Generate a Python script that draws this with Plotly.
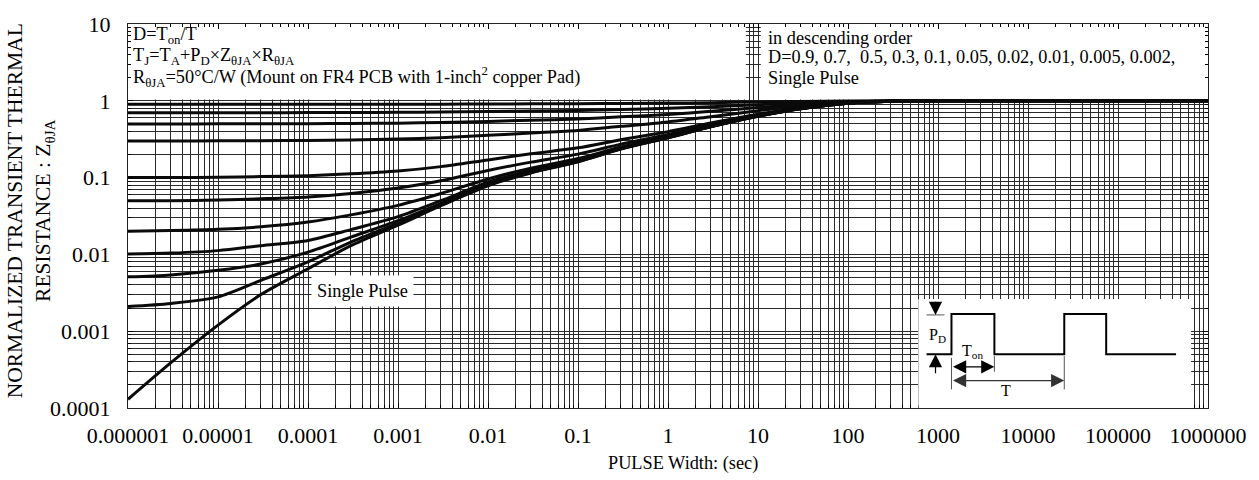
import plotly.graph_objects as go

# ---- data -----------------------------------------------------------------
pulse_width = [1e-6, 3e-6, 1e-5, 3e-5, 1e-4, 3e-4, 1e-3, 3e-3, 1e-2, 3e-2,
               0.1, 0.3, 1, 3, 10, 30, 100, 300, 1e3, 1e4, 1e5, 1e6]

z_d0_9 = [0.9, 0.9, 0.9, 0.9, 0.901, 0.901, 0.902, 0.904, 0.908, 0.912, 0.916,
          0.924, 0.933, 0.946, 0.963, 0.979, 0.993, 0.999, 1.0, 1.0, 1.0, 1.0]
z_d0_7 = [0.7, 0.7, 0.7, 0.701, 0.702, 0.704, 0.707, 0.713, 0.723, 0.735, 0.748,
          0.771, 0.799, 0.838, 0.889, 0.937, 0.979, 0.996, 1.0, 1.0, 1.0, 1.0]
z_d0_5 = [0.5, 0.5, 0.501, 0.502, 0.503, 0.507, 0.512, 0.522, 0.539, 0.558, 0.58,
          0.618, 0.665, 0.73, 0.815, 0.895, 0.965, 0.993, 1.0, 1.0, 1.0, 1.0]
z_d0_3 = [0.3, 0.3, 0.301, 0.302, 0.305, 0.309, 0.317, 0.33, 0.355, 0.381, 0.412,
          0.465, 0.531, 0.622, 0.741, 0.853, 0.951, 0.99, 1.0, 1.0, 1.0, 1.0]
z_d0_1 = [0.1, 0.1, 0.101, 0.103, 0.106, 0.112, 0.122, 0.139, 0.17, 0.204, 0.244,
          0.312, 0.397, 0.514, 0.667, 0.811, 0.937, 0.987, 1.0, 1.0, 1.0, 1.0]
z_d0_05 = [0.05, 0.05, 0.051, 0.053, 0.056, 0.062, 0.073, 0.091, 0.124, 0.159, 0.202,
           0.273, 0.364, 0.487, 0.649, 0.801, 0.934, 0.986, 1.0, 1.0, 1.0, 1.0]
z_d0_02 = [0.02, 0.0204, 0.0212, 0.0229, 0.0264, 0.0327, 0.0435, 0.062, 0.096, 0.133,
           0.177, 0.25, 0.343, 0.471, 0.637, 0.794, 0.931, 0.985, 1.0, 1.0, 1.0, 1.0]
z_d0_01 = [0.0101, 0.0104, 0.0112, 0.013, 0.0152, 0.021, 0.031, 0.05, 0.087, 0.124,
           0.168, 0.243, 0.337, 0.465, 0.634, 0.792, 0.93, 0.985, 1.0, 1.0, 1.0, 1.0]
z_d0_005 = [0.0051, 0.0054, 0.0062, 0.0075, 0.0107, 0.0168, 0.0275, 0.046, 0.083, 0.119,
            0.164, 0.239, 0.333, 0.463, 0.632, 0.791, 0.93, 0.985, 1.0, 1.0, 1.0, 1.0]
z_d0_002 = [0.0021, 0.0023, 0.0028, 0.0046, 0.008, 0.0145, 0.0255, 0.044, 0.08, 0.117,
            0.162, 0.237, 0.332, 0.461, 0.631, 0.79, 0.93, 0.985, 1.0, 1.0, 1.0, 1.0]
z_single = [1.3e-4, 3.9e-4, 1.2e-3, 3.0e-3, 6.5e-3, 0.013, 0.024, 0.043, 0.078, 0.115,
            0.16, 0.235, 0.33, 0.46, 0.63, 0.79, 0.93, 0.985, 1.0, 1.0, 1.0, 1.0]

series_names = ["D=0.9", "D=0.7", "D=0.5", "D=0.3", "D=0.1", "D=0.05", "D=0.02",
                "D=0.01", "D=0.005", "D=0.002", "Single Pulse"]
series_values = [z_d0_9, z_d0_7, z_d0_5, z_d0_3, z_d0_1, z_d0_05, z_d0_02,
                 z_d0_01, z_d0_005, z_d0_002, z_single]

x_tickvals = [1e-6, 1e-5, 1e-4, 1e-3, 1e-2, 1e-1, 1, 10, 100, 1e3, 1e4, 1e5, 1e6]
x_ticktext = ["0.000001", "0.00001", "0.0001", "0.001", "0.01", "0.1", "1", "10",
              "100", "1000", "10000", "100000", "1000000"]
y_tickvals = [1e-4, 1e-3, 1e-2, 1e-1, 1, 10]
y_ticktext = ["0.0001", "0.001", "0.01", "0.1", "1", "10"]

# ---- layout geometry (pixels of the 1259x480 canvas) -----------------------
W, H = 1259, 480
L, R, T, B = 128, 1210, 16, 408
FONT = "Liberation Serif"
GRID = "#2a2a2a"
TXT = 18.3


def px_paper(px):
    return (px - L) / (R - L)


def py_paper(py):
    return (B - py) / (B - T)


def px_data(px):
    return 10 ** ((px - L) / (R - L) * 12 - 6)


def py_data(py):
    return 10 ** ((B - py) / (B - T) * 5 - 4)


x_minor = [m * 10 ** e for e in range(-6, 6) for m in range(2, 10)]
y_minor = [m * 10 ** e for e in range(-4, 1) for m in range(2, 10)]

fig = go.Figure()

for name, vals in zip(series_names, series_values):
    fig.add_trace(go.Scatter(
        x=pulse_width, y=vals, name=name, mode="lines",
        line=dict(color="#0a0a0a", width=3, shape="spline", smoothing=0.8),
        hoverinfo="x+y+name", showlegend=False,
    ))

# ---- pulse train sketch in its own small frame ----------------------------
wave_x = [8, 33, 33, 76, 76, 146, 146, 188, 188, 258]
wave_y = [55, 55, 96, 96, 55, 55, 96, 96, 55, 55]
fig.add_trace(go.Scatter(x=wave_x, y=wave_y, xaxis="x2", yaxis="y2", mode="lines",
                         line=dict(color="black", width=2), hoverinfo="skip",
                         showlegend=False))
# reference ticks and extension lines
fig.add_trace(go.Scatter(
    x=[8, 26, None, 33, 33, None, 76, 76, None, 146, 146],
    y=[95, 95, None, 51, 19, None, 53, 37, None, 53, 19],
    xaxis="x2", yaxis="y2", mode="lines",
    line=dict(color="#555555", width=1), hoverinfo="skip", showlegend=False))

shapes = [
    # text panels above the curves
    dict(type="rect", xref="x", yref="y", x0=1e-6, x1=px_data(747),
         y0=py_data(93), y1=10, fillcolor="white", line=dict(width=0), layer="between"),
    dict(type="rect", xref="x", yref="y", x0=px_data(762), x1=1e6,
         y0=py_data(93), y1=10, fillcolor="white", line=dict(width=0), layer="between"),
    # panel behind the pulse train sketch
    dict(type="rect", xref="x", yref="y", x0=px_data(920), x1=px_data(1193),
         y0=1e-4, y1=py_data(297), fillcolor="white", line=dict(width=0), layer="between"),
]

ann = []
# y axis title
ann.append(dict(xref="paper", yref="paper", x=px_paper(30), y=py_paper(207),
                xanchor="center", yanchor="middle",
                text="NORMALIZED TRANSIENT THERMAL<br>RESISTANCE : Z<sub>θJA</sub>",
                textangle=-90, showarrow=False, font=dict(size=21.5, family=FONT, color="black")))
# x axis title
ann.append(dict(xref="paper", yref="paper", x=px_paper(684), y=py_paper(465),
                xanchor="center", yanchor="middle",
                text="PULSE Width: (sec)", showarrow=False,
                font=dict(size=TXT, family=FONT, color="black")))

left_lines = [
    ("D=T<sub>on</sub>/T", 28),
    ("T<sub>J</sub>=T<sub>A</sub>+P<sub>D</sub>×Z<sub>θJA</sub>×R<sub>θJA</sub>", 49),
    ("R<sub>θJA</sub>=50°C/W (Mount on FR4 PCB with 1-inch<sup>2</sup> copper Pad)", 70),
]
for txt, yy in left_lines:
    ann.append(dict(xref="paper", yref="paper", x=px_paper(131), y=py_paper(yy),
                    xanchor="left", yanchor="middle", text=txt, showarrow=False,
                    font=dict(size=TXT, family=FONT, color="black")))

right_lines = [
    ("in descending order", 30),
    ("D=0.9, 0.7,&nbsp; 0.5, 0.3, 0.1, 0.05, 0.02, 0.01, 0.005, 0.002,", 50),
    ("Single Pulse", 71),
]
for txt, yy in right_lines:
    ann.append(dict(xref="paper", yref="paper", x=px_paper(767), y=py_paper(yy),
                    xanchor="left", yanchor="middle", text=txt, showarrow=False,
                    font=dict(size=TXT, family=FONT, color="black")))

# label for the single pulse curve
ann.append(dict(xref="paper", yref="paper", x=px_paper(363), y=py_paper(289),
                xanchor="center", yanchor="middle",
                text="Single Pulse", showarrow=False, bgcolor="white", borderpad=5,
                font=dict(size=TXT, family=FONT, color="black")))

# pulse sketch labels and dimension arrows
sk = dict(xref="x2", yref="y2", axref="x2", ayref="y2")
arrow_style = dict(arrowhead=2, arrowsize=2.2, arrowwidth=1.2, standoff=0)
ann.append(dict(**sk, x=17, y=95, ax=17, ay=110, text="", showarrow=True,
                arrowcolor="black", **arrow_style))
ann.append(dict(**sk, x=17, y=55, ax=17, ay=34, text="", showarrow=True,
                arrowcolor="black", **arrow_style))
ann.append(dict(**sk, x=76, y=42, ax=33, ay=42, text="", showarrow=True,
                startarrowhead=2, arrowside="end+start", startarrowsize=2.2,
                startstandoff=0, arrowcolor="black", **arrow_style))
ann.append(dict(**sk, x=146, y=28, ax=33, ay=28, text="", showarrow=True,
                startarrowhead=2, arrowside="end+start", startarrowsize=2.2,
                startstandoff=0, arrowcolor="#333333", **arrow_style))
ann.append(dict(xref="x2", yref="y2", x=19, y=74, text="P<sub>D</sub>", showarrow=False,
                font=dict(size=16, family=FONT, color="black")))
ann.append(dict(xref="x2", yref="y2", x=54, y=58, text="T<sub>on</sub>", showarrow=False,
                font=dict(size=16, family=FONT, color="black")))
ann.append(dict(xref="x2", yref="y2", x=88, y=18, text="T", showarrow=False,
                font=dict(size=16, family=FONT, color="black")))

fig.update_layout(
    width=W, height=H, autosize=False,
    margin=dict(l=L, r=W - R, t=T, b=H - B, pad=0),
    paper_bgcolor="white", plot_bgcolor="white",
    font=dict(family=FONT, color="black"),
    shapes=shapes, annotations=ann,
    xaxis=dict(
        type="log", range=[-6, 6], tickmode="array", tickvals=x_tickvals,
        ticktext=x_ticktext, tickfont=dict(size=22, family=FONT, color="black"),
        ticks="inside", ticklen=5, tickcolor="black", ticklabelstandoff=8,
        showgrid=True, gridcolor=GRID, gridwidth=1.2,
        showline=True, linecolor="#222222", linewidth=1, mirror="ticks",
        zeroline=False,
        minor=dict(tickmode="array", tickvals=x_minor, ticks="inside", ticklen=3,
                   tickcolor="black", showgrid=True, gridcolor=GRID, gridwidth=1.2),
    ),
    yaxis=dict(
        type="log", range=[-4, 1], tickmode="array", tickvals=y_tickvals,
        ticktext=y_ticktext, tickfont=dict(size=22, family=FONT, color="black"),
        ticks="inside", ticklen=5, tickcolor="black", ticklabelstandoff=12,
        showgrid=True, gridcolor=GRID, gridwidth=1.2,
        showline=True, linecolor="#222222", linewidth=1, mirror="ticks",
        zeroline=False,
        minor=dict(tickmode="array", tickvals=y_minor, ticks="inside", ticklen=3,
                   tickcolor="black", showgrid=True, gridcolor=GRID, gridwidth=1.2),
    ),
    xaxis2=dict(domain=[px_paper(920), px_paper(1193)], range=[0, 273], anchor="y2",
                visible=False, fixedrange=True),
    yaxis2=dict(domain=[0, py_paper(297)], range=[0, 111], anchor="x2",
                visible=False, fixedrange=True),
)

fig.write_html("out.html")
